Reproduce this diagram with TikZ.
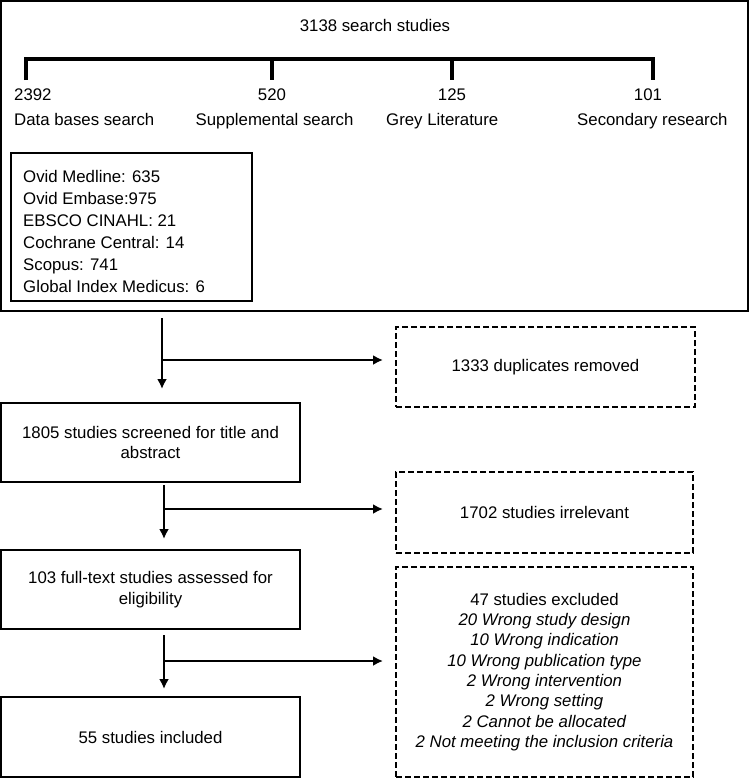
\documentclass[tikz,border=0pt]{standalone}
\usepackage{fontspec}
\setmainfont{Liberation Sans}
\usetikzlibrary{arrows.meta}
\begin{document}
\begin{tikzpicture}[x=1pt,y=-1pt,
  every node/.style={font=\fontsize{16.8}{20.5}\selectfont, inner sep=0pt},
  box/.style={draw, line width=2pt, align=center},
  dbox/.style={draw, line width=2pt, dash pattern=on 6pt off 3pt, align=center},
  arr/.style={line width=2.6pt, -{Latex[length=10pt,width=10pt]}},
  bar/.style={line width=3.3pt}]
\useasboundingbox (0,0) rectangle (750,779);
% outer search box
\node[box, minimum width=747, minimum height=310] (outer) at (374.5,156) {};
\node[anchor=base] (title) at (375,31) {3138 search studies};
\coordinate (t1) at (26,59); \coordinate (t2) at (272,59);
\coordinate (t3) at (452,59); \coordinate (t4) at (653,59);
\coordinate (b1) at (26,80); \coordinate (b2) at (272,80);
\coordinate (b3) at (452,80); \coordinate (b4) at (653,80);
\draw[bar] (b1) -- (t1) -- (t4) -- (b4);
\draw[bar] (t2) -- (b2);
\draw[bar] (t3) -- (b3);
\node[anchor=base west] (n1) at (14,100) {2392};
\node[anchor=base] (n2) at (272,100) {520};
\node[anchor=base] (n3) at (452,100) {125};
\node[anchor=base] (n4) at (648,100) {101};
\node[anchor=base west] (l1) at (14,125) {Data bases search};
\node[anchor=base west] (l2) at (195.5,125) {Supplemental search};
\node[anchor=base west] (l3) at (386,125) {Grey Literature};
\node[anchor=base west] (l4) at (577,125) {Secondary research};
\node[box, minimum width=241, minimum height=148] (db) at (131.5,227) {};
\node[anchor=north west, align=left, font=\fontsize{16.8}{22}\selectfont] (dbtext) at (23,170)
  {Ovid Medline: 635\\Ovid Embase:975\\EBSCO CINAHL: 21\\Cochrane Central: 14\\Scopus: 741\\Global Index Medicus: 6};
% flow boxes
\node[dbox, minimum width=299, minimum height=80] (dup) at (545.5,367) {1333 duplicates removed};
\node[box, minimum width=299, minimum height=79] (scr) at (150.5,442.5) {1805 studies screened for title and\\abstract};
\node[dbox, minimum width=297, minimum height=81] (irr) at (544.5,512.5) {1702 studies irrelevant};
\node[box, minimum width=299, minimum height=79] (full) at (150.5,589.5) {103 full-text studies assessed for\\eligibility};
\node[dbox, minimum width=297, minimum height=210, font=\fontsize{16.8}{20.3}\selectfont] (exc) at (544.5,672)
  {47 studies excluded\\\textit{20 Wrong study design}\\\textit{10 Wrong indication}\\\textit{10 Wrong publication type}\\\textit{2 Wrong intervention}\\\textit{2 Wrong setting}\\\textit{2 Cannot be allocated}\\\textit{2 Not meeting the inclusion criteria}};
\node[box, minimum width=299, minimum height=80] (inc) at (150.5,737) {55 studies included};
% arrows
\coordinate (a1s) at (162,318); \coordinate (a1e) at (162,389);
\coordinate (a1b) at (162,360); \coordinate (a1t) at (383,360);
\draw[arr] (a1s) -- (a1e);
\draw[arr] (a1b) -- (a1t);
\coordinate (a2s) at (164,485); \coordinate (a2e) at (164,539);
\coordinate (a2b) at (164,509); \coordinate (a2t) at (383,509);
\draw[arr] (a2s) -- (a2e);
\draw[arr] (a2b) -- (a2t);
\coordinate (a3s) at (164,635); \coordinate (a3e) at (164,689);
\coordinate (a3b) at (164,661); \coordinate (a3t) at (383,661);
\draw[arr] (a3s) -- (a3e);
\draw[arr] (a3b) -- (a3t);
\end{tikzpicture}
\end{document}
